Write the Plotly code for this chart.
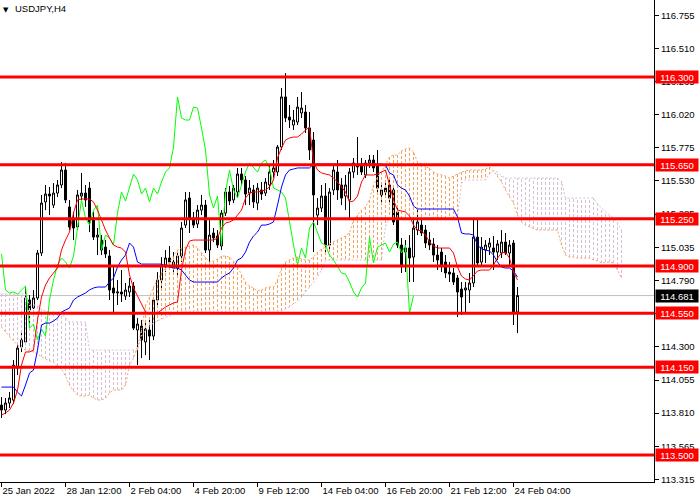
import plotly.graph_objects as go

# ---------------- data ----------------
symbol_title = "USDJPY,H4"

time_tick_bars = [0, 16, 32, 48, 64, 80, 96, 112, 128]
time_tick_labels = ["25 Jan 2022", "28 Jan 12:00", "2 Feb 04:00", "4 Feb 20:00", "9 Feb 12:00",
                    "14 Feb 04:00", "16 Feb 20:00", "21 Feb 12:00", "24 Feb 04:00"]

price_ticks = [116.755, 116.510, 116.265, 116.020, 115.775, 115.530, 115.285, 115.035,
               114.790, 114.545, 114.300, 114.055, 113.810, 113.565, 113.315]

levels = [116.300, 115.650, 115.250, 114.900, 114.550, 114.150, 113.500]
last_price = 114.681

opens = [113.870, 113.833, 113.885, 113.907, 114.144, 114.300, 114.337, 114.648, 114.589, 114.663,
         114.996, 115.374, 115.433, 115.351, 115.440, 115.500, 115.611, 115.337, 115.240, 115.189,
         115.418, 115.440, 115.477, 115.255, 115.114, 115.092, 115.040, 114.974, 114.737, 114.700,
         114.707, 114.677, 114.707, 114.751, 114.426, 114.455, 114.337, 114.426, 114.381, 114.648,
         114.796, 114.907, 114.959, 114.929, 114.885, 114.974, 115.203, 115.403, 115.255, 115.211,
         115.314, 115.351, 115.018, 115.144, 115.122, 115.048, 115.292, 115.448, 115.389, 115.448,
         115.581, 115.537, 115.440, 115.463, 115.366, 115.463, 115.440, 115.500, 115.596, 115.596,
         115.781, 116.152, 116.003, 115.944, 115.966, 116.033, 116.040, 115.922, 115.833, 115.277,
         115.329, 115.418, 115.055, 115.463, 115.596, 115.500, 115.418, 115.389, 115.596, 115.648,
         115.648, 115.574, 115.663, 115.685, 115.648, 115.426, 115.477, 115.500, 115.463, 115.300,
         115.055, 115.003, 115.033, 114.966, 115.166, 115.203, 115.166, 115.092, 115.063, 114.981,
         115.003, 114.929, 114.855, 114.848, 114.811, 114.729, 114.722, 114.722, 114.774, 115.114,
         114.929, 115.018, 115.040, 115.033, 115.003, 114.996, 115.077, 114.996, 115.070, 114.559]
highs = [113.929, 113.922, 113.966, 114.203, 114.314, 114.426, 114.744, 114.685, 114.722, 115.018,
         115.426, 115.500, 115.485, 115.514, 115.537, 115.670, 115.663, 115.389, 115.300, 115.463,
         115.589, 115.500, 115.522, 115.300, 115.181, 115.129, 115.092, 115.018, 114.892, 114.796,
         114.870, 114.774, 114.811, 114.781, 114.514, 114.500, 114.485, 114.500, 114.670, 114.855,
         114.966, 115.018, 115.048, 115.003, 115.018, 115.226, 115.448, 115.448, 115.300, 115.351,
         115.426, 115.389, 115.255, 115.181, 115.166, 115.314, 115.477, 115.492, 115.500, 115.626,
         115.626, 115.566, 115.537, 115.500, 115.514, 115.522, 115.551, 115.648, 115.685, 115.796,
         116.218, 116.329, 116.092, 116.055, 116.152, 116.189, 116.092, 116.040, 115.892, 115.403,
         115.500, 115.514, 115.477, 115.648, 115.685, 115.551, 115.574, 115.626, 115.700, 115.855,
         115.700, 115.685, 115.722, 115.722, 115.759, 115.500, 115.537, 115.537, 115.500, 115.351,
         115.107, 115.092, 115.129, 115.255, 115.314, 115.255, 115.203, 115.151, 115.107, 115.055,
         115.033, 114.981, 114.929, 114.885, 114.833, 114.781, 114.781, 114.848, 115.240, 115.240,
         115.114, 115.092, 115.107, 115.122, 115.092, 115.166, 115.144, 115.092, 115.092, 114.744]
lows = [113.774, 113.803, 113.848, 113.877, 114.092, 114.263, 114.314, 114.440, 114.551, 114.648,
        114.974, 115.314, 115.277, 115.329, 115.411, 115.477, 115.366, 115.166, 115.092, 115.166,
        115.389, 115.337, 115.151, 115.092, 114.981, 114.981, 114.959, 114.648, 114.559, 114.611,
        114.633, 114.648, 114.670, 114.426, 114.166, 114.218, 114.240, 114.203, 114.351, 114.611,
        114.737, 114.855, 114.885, 114.840, 114.833, 114.929, 115.181, 115.144, 115.181, 115.181,
        115.277, 114.996, 114.907, 115.077, 115.033, 115.018, 115.270, 115.351, 115.366, 115.411,
        115.500, 115.351, 115.351, 115.329, 115.314, 115.389, 115.418, 115.463, 115.551, 115.566,
        115.759, 115.966, 115.922, 115.907, 115.944, 115.996, 115.885, 115.685, 115.003, 115.203,
        115.300, 115.003, 115.018, 115.426, 115.389, 115.351, 115.314, 115.255, 115.551, 115.574,
        115.574, 115.551, 115.626, 115.596, 115.448, 115.351, 115.411, 115.351, 115.203, 115.033,
        114.848, 114.855, 114.781, 114.781, 115.129, 115.122, 115.033, 115.018, 114.929, 114.870,
        114.855, 114.811, 114.781, 114.759, 114.522, 114.537, 114.559, 114.626, 114.744, 114.900,
        114.892, 114.922, 114.981, 114.870, 114.944, 114.959, 114.981, 114.907, 114.463, 114.403]
closes = [113.833, 113.885, 113.922, 114.166, 114.292, 114.351, 114.663, 114.574, 114.663, 114.996,
          115.366, 115.433, 115.418, 115.440, 115.500, 115.611, 115.389, 115.189, 115.181, 115.426,
          115.440, 115.389, 115.226, 115.114, 115.129, 115.018, 114.989, 114.722, 114.700, 114.707,
          114.692, 114.722, 114.751, 114.440, 114.470, 114.351, 114.433, 114.381, 114.648, 114.796,
          114.907, 114.959, 114.929, 114.885, 114.974, 115.181, 115.389, 115.255, 115.203, 115.314,
          115.351, 115.018, 115.129, 115.107, 115.055, 115.292, 115.448, 115.381, 115.477, 115.581,
          115.537, 115.433, 115.477, 115.374, 115.477, 115.433, 115.522, 115.596, 115.626, 115.781,
          116.152, 115.996, 115.981, 115.981, 116.077, 116.070, 115.922, 115.759, 115.426, 115.329,
          115.418, 115.055, 115.448, 115.611, 115.463, 115.403, 115.500, 115.596, 115.663, 115.633,
          115.596, 115.663, 115.685, 115.626, 115.477, 115.463, 115.448, 115.403, 115.226, 115.055,
          114.907, 115.033, 114.959, 115.181, 115.226, 115.144, 115.070, 115.055, 114.981, 114.944,
          114.900, 114.848, 114.840, 114.781, 114.707, 114.670, 114.737, 114.774, 115.114, 114.922,
          115.040, 115.055, 115.070, 115.003, 115.063, 115.077, 114.996, 115.055, 114.551, 114.681]

tenkan = [113.796, 113.811, 113.833, 113.885, 113.981, 114.166, 114.263, 114.263, 114.277, 114.500,
          114.670, 114.759, 114.811, 114.848, 114.885, 115.018, 115.092, 115.151, 115.292, 115.389,
          115.396, 115.396, 115.396, 115.374, 115.314, 115.240, 115.166, 115.107, 115.055, 115.040,
          115.033, 115.003, 114.833, 114.737, 114.677, 114.611, 114.559, 114.551, 114.551, 114.551,
          114.574, 114.596, 114.611, 114.626, 114.633, 114.870, 115.018, 115.085, 115.092, 115.092,
          115.092, 115.092, 115.092, 115.092, 115.107, 115.181, 115.218, 115.226, 115.240, 115.277,
          115.314, 115.403, 115.440, 115.448, 115.448, 115.455, 115.463, 115.485, 115.537, 115.700,
          115.774, 115.833, 115.848, 115.855, 115.855, 115.877, 115.907, 115.929, 115.670, 115.611,
          115.589, 115.581, 115.574, 115.551, 115.522, 115.485, 115.448, 115.374, 115.381, 115.418,
          115.522, 115.574, 115.574, 115.574, 115.581, 115.596, 115.611, 115.500, 115.389, 115.314,
          115.307, 115.300, 115.270, 115.203, 115.166, 115.159, 115.129, 115.077, 115.048, 115.033,
          115.033, 115.033, 115.033, 114.996, 114.892, 114.826, 114.803, 114.796, 114.833, 114.863,
          114.870, 114.870, 114.870, 114.907, 114.959, 114.996, 115.003, 114.959, 114.855, 114.796]

kijun = [114.003, 114.003, 114.003, 114.003, 113.966, 113.937, 114.018, 114.107, 114.129, 114.277,
         114.463, 114.477, 114.477, 114.492, 114.514, 114.559, 114.574, 114.589, 114.648, 114.670,
         114.685, 114.700, 114.722, 114.737, 114.744, 114.744, 114.744, 114.781, 114.811, 114.892,
         114.944, 114.981, 115.070, 115.040, 114.929, 114.914, 114.914, 114.914, 114.914, 114.914,
         114.914, 114.900, 114.892, 114.885, 114.885, 114.870, 114.833, 114.796, 114.781, 114.781,
         114.781, 114.781, 114.781, 114.781, 114.781, 114.811, 114.833, 114.848, 114.885, 114.944,
         114.959, 115.003, 115.077, 115.122, 115.151, 115.203, 115.203, 115.211, 115.226, 115.351,
         115.485, 115.574, 115.611, 115.618, 115.626, 115.626, 115.626, 115.626, 115.655, 115.655,
         115.655, 115.655, 115.655, 115.655, 115.655, 115.655, 115.655, 115.655, 115.655, 115.655,
         115.655, 115.655, 115.655, 115.655, 115.655, 115.655, 115.648, 115.589, 115.574, 115.500,
         115.477, 115.463, 115.418, 115.344, 115.322, 115.322, 115.322, 115.322, 115.322, 115.322,
         115.322, 115.322, 115.322, 115.322, 115.263, 115.144, 115.137, 115.137, 115.129, 115.055,
         115.026, 115.018, 115.011, 114.981, 114.929, 114.892, 114.885, 114.885, 114.863, 114.818]

senkou_a = [114.448, 114.411, 114.381, 114.344, 114.314, 114.292, 114.277, 114.270, 114.263, 114.248,
            114.226, 114.211, 114.196, 114.189, 114.159, 114.137, 114.085, 114.018, 113.974, 113.944,
            113.937, 113.937, 113.944, 113.922, 113.907, 113.907, 113.922, 113.959, 113.981, 113.981,
            113.981, 114.018, 114.166, 114.218, 114.300, 114.426, 114.611, 114.670, 114.744, 114.796,
            114.848, 114.885, 114.929, 114.966, 115.018, 115.033, 115.040, 115.048, 115.055, 115.033,
            114.996, 114.966, 114.929, 114.937, 114.951, 114.974, 114.974, 114.966, 114.937, 114.892,
            114.833, 114.781, 114.751, 114.737, 114.714, 114.722, 114.737, 114.744, 114.744, 114.796,
            114.885, 114.929, 114.944, 114.959, 114.966, 114.951, 114.944, 114.944, 114.966, 115.003,
            115.026, 115.040, 115.063, 115.077, 115.092, 115.107, 115.122, 115.144, 115.240, 115.277,
            115.314, 115.337, 115.389, 115.500, 115.559, 115.596, 115.648, 115.707, 115.722, 115.722,
            115.751, 115.766, 115.774, 115.744, 115.670, 115.655, 115.633, 115.626, 115.596, 115.581,
            115.574, 115.566, 115.551, 115.566, 115.581, 115.596, 115.603, 115.611, 115.611, 115.611,
            115.611, 115.618, 115.633, 115.603, 115.559, 115.522, 115.463, 115.411, 115.366, 115.277,
            115.226, 115.203, 115.189, 115.174, 115.166, 115.166, 115.166, 115.166, 115.166, 115.166,
            115.055, 114.981, 114.966, 114.966, 114.959, 114.959, 114.959, 114.959, 114.944, 114.937,
            114.922, 114.929, 114.929, 114.922, 114.870, 114.811]

senkou_b = [114.692, 114.692, 114.692, 114.692, 114.692, 114.692, 114.692, 114.611, 114.611, 114.611,
            114.574, 114.566, 114.559, 114.551, 114.544, 114.537, 114.522, 114.485, 114.485, 114.485,
            114.485, 114.485, 114.277, 114.277, 114.277, 114.277, 114.277, 114.277, 114.277, 114.277,
            114.277, 114.277, 114.277, 114.277, 114.277, 114.381, 114.426, 114.455, 114.477, 114.492,
            114.507, 114.522, 114.529, 114.544, 114.551, 114.559, 114.566, 114.566, 114.566, 114.566,
            114.566, 114.566, 114.566, 114.566, 114.566, 114.566, 114.566, 114.566, 114.566, 114.566,
            114.566, 114.566, 114.566, 114.566, 114.566, 114.566, 114.566, 114.566, 114.566, 114.566,
            114.566, 114.581, 114.596, 114.618, 114.640, 114.670, 114.707, 114.744, 114.781, 114.818,
            114.870, 114.944, 114.944, 114.944, 114.944, 114.944, 114.944, 114.944, 114.944, 114.944,
            114.944, 114.944, 114.944, 114.944, 114.944, 114.944, 115.196, 115.255, 115.255, 115.255,
            115.255, 115.255, 115.255, 115.255, 115.255, 115.255, 115.255, 115.255, 115.255, 115.255,
            115.255, 115.255, 115.255, 115.255, 115.255, 115.514, 115.537, 115.537, 115.537, 115.537,
            115.537, 115.537, 115.581, 115.603, 115.596, 115.566, 115.551, 115.551, 115.551, 115.551,
            115.551, 115.551, 115.551, 115.551, 115.551, 115.551, 115.551, 115.551, 115.551, 115.551,
            115.529, 115.403, 115.403, 115.403, 115.403, 115.403, 115.403, 115.403, 115.403, 115.359,
            115.329, 115.300, 115.277, 115.255, 115.218, 115.166]

chikou_shift = 26

# ---------------- figure ----------------
n_bars = len(closes)
bars = list(range(n_bars))
cloud_bars = list(range(len(senkou_a)))

RED = "#FF0000"
SANDY = "#F4A460"
THISTLE = "#D8BFD8"
FONT = "Liberation Sans"

fig = go.Figure()

# candles
fig.add_trace(go.Candlestick(
    x=bars, open=opens, high=highs, low=lows, close=closes,
    increasing=dict(line=dict(color="black", width=1), fillcolor="white"),
    decreasing=dict(line=dict(color="black", width=1), fillcolor="black"),
    whiskerwidth=0, hoverinfo="skip", showlegend=False))

# cloud hatching
hx_up, hy_up, hx_dn, hy_dn = [], [], [], []
for i in cloud_bars:
    if senkou_a[i] >= senkou_b[i]:
        hx_up += [i, i, None]
        hy_up += [senkou_a[i], senkou_b[i], None]
    else:
        hx_dn += [i, i, None]
        hy_dn += [senkou_a[i], senkou_b[i], None]
fig.add_trace(go.Scatter(x=hx_up, y=hy_up, mode="lines",
                         line=dict(color=SANDY, width=1, dash="3px,2px"),
                         hoverinfo="skip", showlegend=False))
fig.add_trace(go.Scatter(x=hx_dn, y=hy_dn, mode="lines",
                         line=dict(color=THISTLE, width=1, dash="3px,2px"),
                         hoverinfo="skip", showlegend=False))

# cloud edges
fig.add_trace(go.Scatter(x=cloud_bars, y=senkou_a, mode="lines",
                         line=dict(color=SANDY, width=1, dash="2px,2px"),
                         hoverinfo="skip", showlegend=False))
fig.add_trace(go.Scatter(x=cloud_bars, y=senkou_b, mode="lines",
                         line=dict(color=THISTLE, width=1, dash="2px,2px"),
                         hoverinfo="skip", showlegend=False))

# chikou span (close shifted back)
chikou_x = bars[:n_bars - chikou_shift]
chikou_y = closes[chikou_shift:]
fig.add_trace(go.Scatter(x=chikou_x, y=chikou_y, mode="lines",
                         line=dict(color="#00FF00", width=1),
                         hoverinfo="skip", showlegend=False))

# kijun, tenkan
fig.add_trace(go.Scatter(x=bars, y=kijun, mode="lines",
                         line=dict(color="#0000FF", width=1),
                         hoverinfo="skip", showlegend=False))
fig.add_trace(go.Scatter(x=bars, y=tenkan, mode="lines",
                         line=dict(color=RED, width=1),
                         hoverinfo="skip", showlegend=False))

shapes = [dict(type="line", xref="paper", x0=0, x1=1, yref="y", y0=last_price, y1=last_price,
               line=dict(color="#C0C0C0", width=1), layer="below")]
for lv in levels:
    shapes.append(dict(type="line", xref="paper", x0=0, x1=1, yref="y", y0=lv, y1=lv,
                       line=dict(color=RED, width=3), layer="above"))

annotations = []
for lv in levels:
    annotations.append(dict(xref="paper", x=1, xanchor="left", xshift=1,
                            yref="y", y=lv, yanchor="middle",
                            text=f"{lv:.3f}", showarrow=False,
                            font=dict(family=FONT, size=9.5, color="white"),
                            bgcolor=RED, width=40, height=10, borderpad=1, align="center"))
annotations.append(dict(xref="paper", x=1, xanchor="left", xshift=1,
                        yref="y", y=last_price, yanchor="middle",
                        text=f"{last_price:.3f}", showarrow=False,
                        font=dict(family=FONT, size=9.5, color="white"),
                        bgcolor="black", width=40, height=10, borderpad=1, align="center"))
annotations.append(dict(xref="paper", x=0, xanchor="left", xshift=1, yref="paper", y=1,
                        yanchor="top", yshift=-4, text="▼", showarrow=False,
                        font=dict(family="DejaVu Sans", size=7, color="black")))
annotations.append(dict(xref="paper", x=0, xanchor="left", xshift=13, yref="paper", y=1,
                        yanchor="top", yshift=-1, text=symbol_title, showarrow=False,
                        font=dict(family=FONT, size=9.5, color="black")))

fig.update_layout(
    width=700, height=500,
    margin=dict(l=0, r=46, t=0, b=18, autoexpand=False),
    paper_bgcolor="white", plot_bgcolor="white",
    showlegend=False, boxgap=0.5, boxgroupgap=0,
    shapes=shapes, annotations=annotations,
    xaxis=dict(range=[-0.375, 163.125], tickmode="array", tickvals=time_tick_bars,
               ticktext=time_tick_labels, ticks="outside", ticklen=4, tickcolor="black",
               ticklabelposition="outside right", tickangle=0, automargin=False,
               showline=True, linecolor="black", linewidth=1, showgrid=False, zeroline=False,
               rangeslider=dict(visible=False), fixedrange=True,
               tickfont=dict(family=FONT, size=9.5, color="black")),
    yaxis=dict(range=[113.300, 116.870], side="right", tickmode="array", tickvals=price_ticks,
               ticktext=[f"{v:.3f}" for v in price_ticks], ticks="outside", ticklen=4,
               tickcolor="black", showline=True, linecolor="black", linewidth=1,
               showgrid=False, zeroline=False, fixedrange=True, automargin=False,
               tickfont=dict(family=FONT, size=9.5, color="black")),
)

fig.write_html("out.html", config={"displayModeBar": False},
               post_script="document.body.style.margin='0';")
